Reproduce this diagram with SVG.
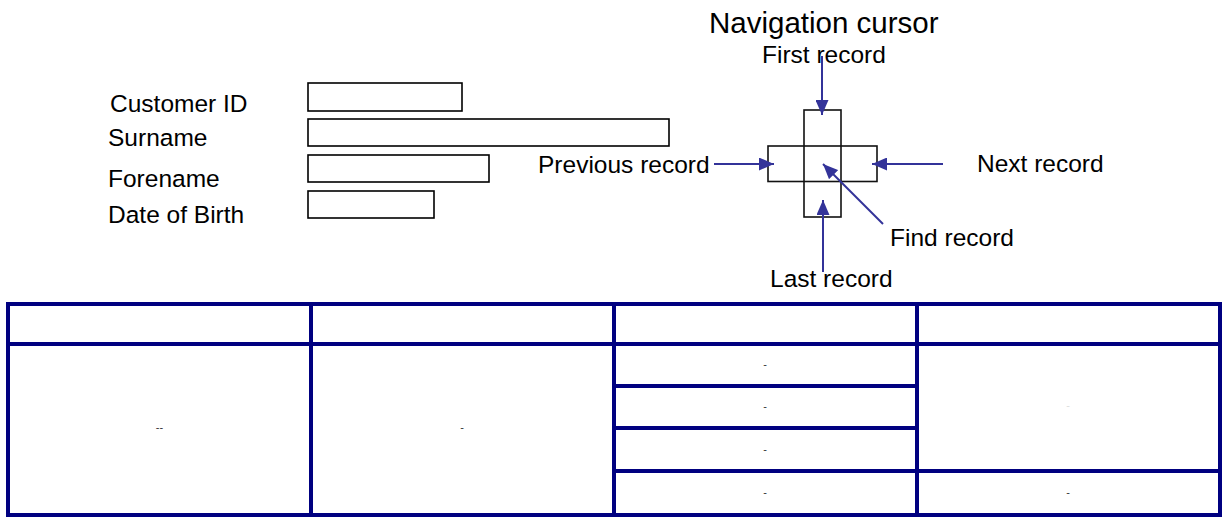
<svg xmlns="http://www.w3.org/2000/svg" width="1225" height="517" viewBox="0 0 1225 517">
  <style>
    text { font-family: "Liberation Sans", Arial, sans-serif; fill: #000; }
    .lbl { font-size: 24.5px; }
    .title { font-size: 29.5px; }
    .box { fill: #fff; stroke: #000; stroke-width: 1.6; }
    .cross { fill: none; stroke: #111; stroke-width: 1.6; }
    .arrow { stroke: #333399; stroke-width: 2; fill: none; marker-end: url(#ah); }
    .tbl { stroke: #000080; stroke-width: 4; fill: none; }
    .dash { font-size: 11px; fill: #333; text-anchor: middle; }
  </style>
  <defs>
    <marker id="ah" markerUnits="userSpaceOnUse" markerWidth="15" markerHeight="13" refX="15" refY="6.5" orient="auto">
      <path d="M0,0 L15,6.5 L0,13 z" fill="#333399"/>
    </marker>
  </defs>
  <rect width="1225" height="517" fill="#fff"/>

  <g id="field-customer-id">
    <text class="lbl" x="110" y="112">Customer ID</text>
    <rect class="box" x="308" y="83" width="154" height="28"/>
  </g>
  <g id="field-surname">
    <text class="lbl" x="108" y="146">Surname</text>
    <rect class="box" x="308" y="119" width="361" height="27"/>
  </g>
  <g id="field-forename">
    <text class="lbl" x="108" y="187">Forename</text>
    <rect class="box" x="308" y="155" width="181" height="27"/>
  </g>
  <g id="field-dob">
    <text class="lbl" x="108" y="223">Date of Birth</text>
    <rect class="box" x="308" y="191" width="126" height="27"/>
  </g>

  <g id="nav-title">
    <text class="title" x="709" y="33">Navigation cursor</text>
  </g>
  <g id="nav-cursor">
    <rect class="cross" x="804" y="110" width="37" height="107"/>
    <rect class="cross" x="768" y="146" width="109" height="35.5"/>
  </g>
  <g id="label-first"><text class="lbl" x="762" y="63">First record</text></g>
  <g id="label-previous"><text class="lbl" x="538" y="173">Previous record</text></g>
  <g id="label-next"><text class="lbl" x="977" y="172">Next record</text></g>
  <g id="label-find"><text class="lbl" x="890" y="246">Find record</text></g>
  <g id="label-last"><text class="lbl" x="770" y="287">Last record</text></g>

  <g id="connectors">
    <line class="arrow" x1="822" y1="56" x2="822" y2="115"/>
    <line class="arrow" x1="714" y1="164" x2="774" y2="164"/>
    <line class="arrow" x1="943" y1="164" x2="872" y2="164"/>
    <line class="arrow" x1="823" y1="272" x2="823" y2="200"/>
    <line class="arrow" x1="883" y1="224" x2="823" y2="164"/>
  </g>

  <g id="table">
    <rect class="tbl" x="8" y="304" width="1212" height="211"/>
    <line class="tbl" x1="8" y1="344" x2="1220" y2="344"/>
    <line class="tbl" x1="311" y1="304" x2="311" y2="515"/>
    <line class="tbl" x1="614" y1="304" x2="614" y2="515"/>
    <line class="tbl" x1="917" y1="304" x2="917" y2="515"/>
    <line class="tbl" x1="614" y1="386" x2="917" y2="386"/>
    <line class="tbl" x1="614" y1="428" x2="917" y2="428"/>
    <line class="tbl" x1="614" y1="471" x2="1220" y2="471"/>
    <text class="dash" x="159.5" y="430.5">--</text>
    <text class="dash" x="462" y="430.5">-</text>
    <text class="dash" x="765" y="368">-</text>
    <text class="dash" x="765" y="410">-</text>
    <text class="dash" x="765" y="452.5">-</text>
    <text class="dash" x="765" y="496">-</text>
    <text class="dash" x="1068" y="409" style="fill:#ddd">-</text>
    <text class="dash" x="1068" y="496">-</text>
  </g>
</svg>
